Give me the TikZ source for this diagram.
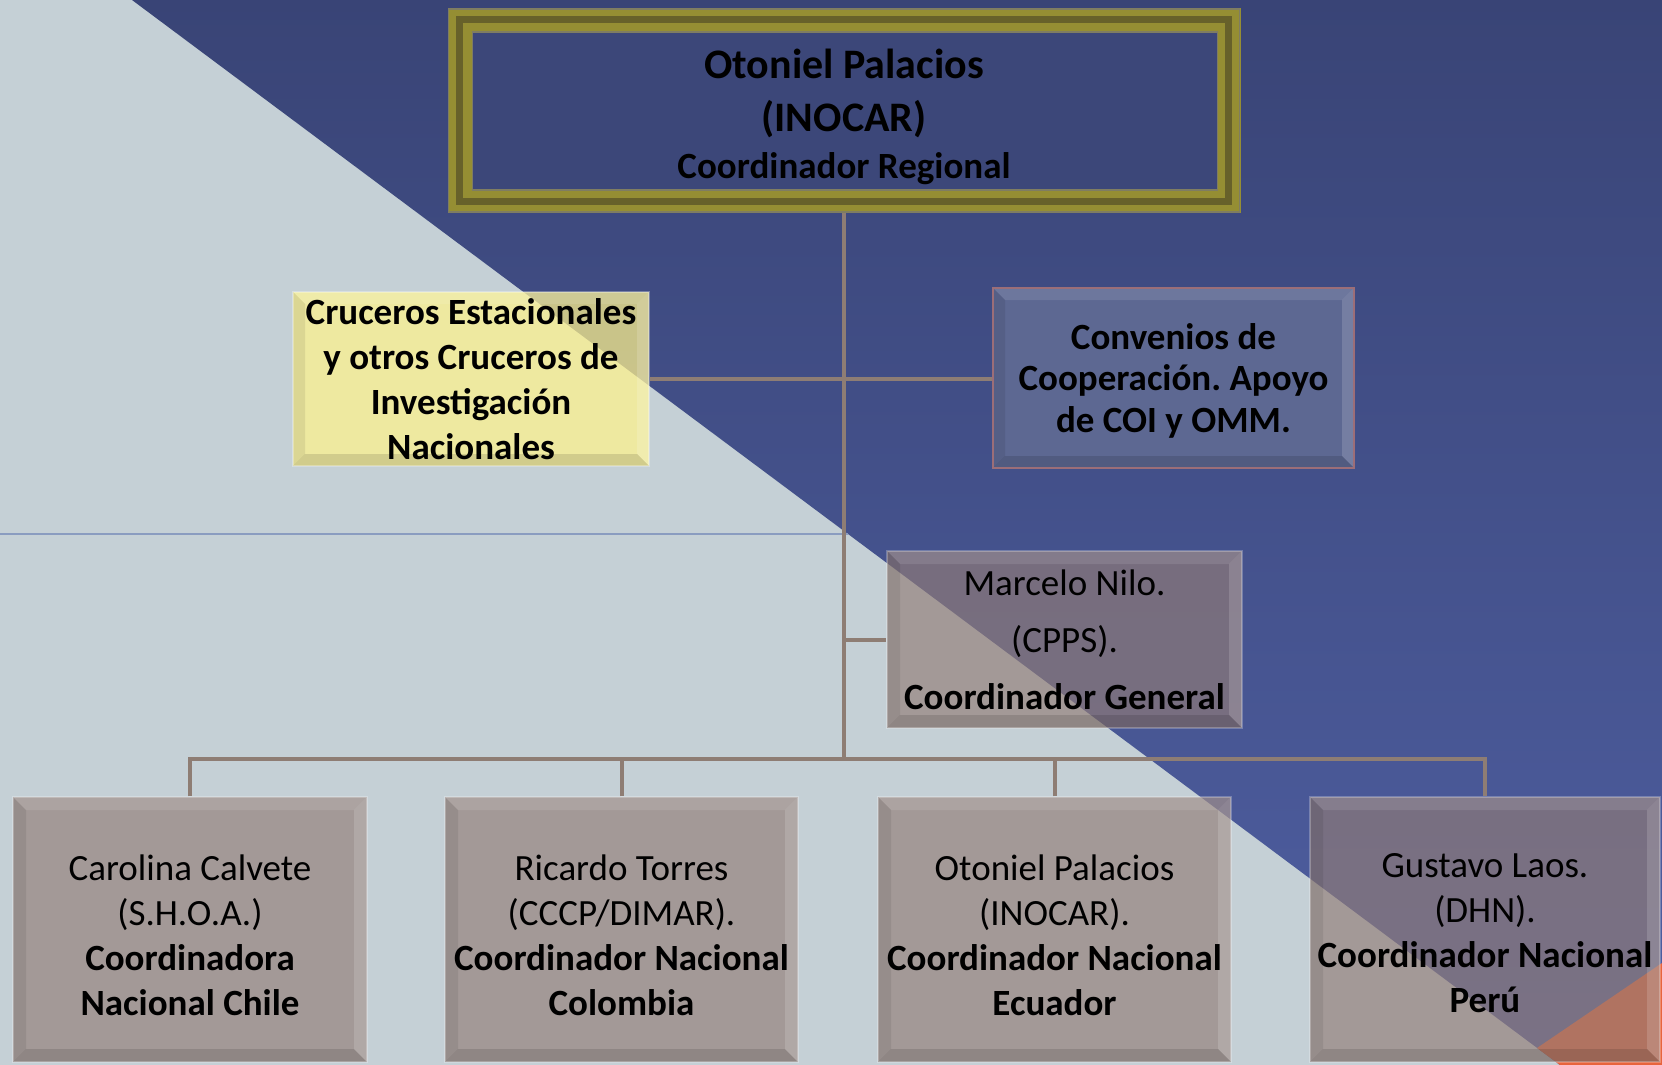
\documentclass[tikz,border=0pt]{standalone}
\usepackage{fontspec}
\setmainfont{Carlito}
\frenchspacing
\definecolor{bglight}{HTML}{C5D0D6}
\definecolor{bluetop}{HTML}{394476}
\definecolor{bluebot}{HTML}{4F5FA2}
\definecolor{orangetri}{HTML}{E8643C}
\definecolor{thinblue}{HTML}{8A9CC0}
\definecolor{conncol}{HTML}{8E7D74}
\definecolor{grayfill}{RGB}{146,124,118}
\definecolor{yellowfill}{RGB}{255,243,140}
\definecolor{convfill}{HTML}{5D6892}
\definecolor{convborder}{HTML}{9C6E78}
\definecolor{frameolive}{HTML}{958E33}
\definecolor{framedark}{HTML}{67612A}
\definecolor{frameedge}{HTML}{7F7D62}
\definecolor{innerblue}{HTML}{3C4779}
\begin{document}
\begin{tikzpicture}[x=1pt,y=-1pt,
  bevel/.style={path picture={
    \fill[white,fill opacity=0.10] (path picture bounding box.north west) -- (path picture bounding box.north east) -- ([shift={(-#1,#1)}]path picture bounding box.north east) -- ([shift={(#1,#1)}]path picture bounding box.north west) -- cycle;
    \fill[white,fill opacity=0.15] (path picture bounding box.north east) -- (path picture bounding box.south east) -- ([shift={(-#1,-#1)}]path picture bounding box.south east) -- ([shift={(-#1,#1)}]path picture bounding box.north east) -- cycle;
    \fill[black,fill opacity=0.08] (path picture bounding box.north west) -- (path picture bounding box.south west) -- ([shift={(#1,-#1)}]path picture bounding box.south west) -- ([shift={(#1,#1)}]path picture bounding box.north west) -- cycle;
    \fill[black,fill opacity=0.12] (path picture bounding box.south west) -- (path picture bounding box.south east) -- ([shift={(-#1,-#1)}]path picture bounding box.south east) -- ([shift={(#1,-#1)}]path picture bounding box.south west) -- cycle;
  }},
  boxbase/.style={rectangle, inner sep=0pt, align=center, text=black, text opacity=1,
    font=\fontsize{37}{45}\selectfont},
  graybox/.style={boxbase, fill=grayfill, fill opacity=0.65, draw=white, draw opacity=0.25,
    line width=1.2pt, bevel=13},
  yellowbox/.style={boxbase, fill=yellowfill, fill opacity=0.72, draw=white, draw opacity=0.3,
    line width=1.2pt, bevel=12, font=\bfseries\fontsize{37}{45}\selectfont},
  convbox/.style={boxbase, fill=convfill, draw=convborder, line width=1.5pt, bevel=12,
    font=\bfseries\fontsize{37}{41.5}\selectfont},
  framebox/.style={boxbase, fill=frameolive, font=\bfseries\fontsize{42}{53}\selectfont,
    path picture={
      \draw[framedark, line width=7pt] ([shift={(12,12)}]path picture bounding box.north west) rectangle ([shift={(-12,-12)}]path picture bounding box.south east);
      \draw[frameedge, line width=1.5pt] ([shift={(1,1)}]path picture bounding box.north west) rectangle ([shift={(-1,-1)}]path picture bounding box.south east);
      \fill[innerblue] ([shift={(25,24)}]path picture bounding box.north west) rectangle ([shift={(-23,-23)}]path picture bounding box.south east);
      \draw[frameedge, line width=1.5pt] ([shift={(25,24)}]path picture bounding box.north west) rectangle ([shift={(-23,-23)}]path picture bounding box.south east);
    }},
  conn/.style={draw=conncol, line width=4pt}
]
\useasboundingbox (0,0) rectangle (1662,1065);
% background
\fill[bglight] (0,0) rectangle (1662,1065);
\shade[top color=bluetop, bottom color=bluebot] (132,0) -- (1662,0) -- (1662,1065) -- (1560,1065) -- cycle;
\fill[orangetri] (1662,963) -- (1537,1048) -- (1560,1065) -- (1662,1065) -- cycle;
\draw[thinblue, line width=1.5pt] (0,534) -- (848,534);

% boxes
\node[framebox, minimum width=793pt, minimum height=205pt] (top) at (844,110.5)
  {\rule{0pt}{42pt}Otoniel Palacios\\(INOCAR)\\[-6pt]{\fontsize{37}{45}\selectfont Coordinador Regional}};
\node[yellowbox, minimum width=356pt, minimum height=174pt] (yellow) at (471,379)
  {Cruceros Estacionales\\y otros Cruceros de\\Investigación\\Nacionales};
\node[convbox, minimum width=361pt, minimum height=180pt] (conv) at (1173.5,378)
  {\rule{0pt}{31pt}Convenios de\\Cooperación. Apoyo\\de COI y OMM.};
\node[graybox, minimum width=355pt, minimum height=177pt, font=\fontsize{37}{57}\selectfont] (marcelo) at (1064.5,639.5)
  {Marcelo Nilo.\\(CPPS).\\\textbf{Coordinador General}};
\node[graybox, minimum width=354pt, minimum height=265pt] (chile) at (190,929.5)
  {\rule{0pt}{38pt}Carolina Calvete\\(S.H.O.A.)\\\textbf{Coordinadora}\\\textbf{Nacional Chile}};
\node[graybox, minimum width=353pt, minimum height=265pt] (colombia) at (621.5,929.5)
  {\rule{0pt}{38pt}Ricardo Torres\\(CCCP/DIMAR).\\\textbf{Coordinador Nacional}\\\textbf{Colombia}};
\node[graybox, minimum width=353pt, minimum height=265pt] (ecuador) at (1054.5,929.5)
  {\rule{0pt}{38pt}Otoniel Palacios\\(INOCAR).\\\textbf{Coordinador Nacional}\\\textbf{Ecuador}};
\node[graybox, minimum width=350pt, minimum height=265pt] (peru) at (1485,929.5)
  {\rule{0pt}{31pt}Gustavo Laos.\\(DHN).\\\textbf{Coordinador Nacional}\\\textbf{Perú}};

% connectors
\coordinate (bus) at (844,759);
\draw[conn] (top.south) -- (bus);
\draw[conn] (yellow.east) -- (yellow.east -| conv.west);
\draw[conn] (top.south |- marcelo.west) -- (marcelo.west);
\draw[conn] (chile.north) |- (bus) -| (peru.north);
\draw[conn] (colombia.north) -- (colombia.north |- bus);
\draw[conn] (ecuador.north) -- (ecuador.north |- bus);
\end{tikzpicture}
\end{document}
